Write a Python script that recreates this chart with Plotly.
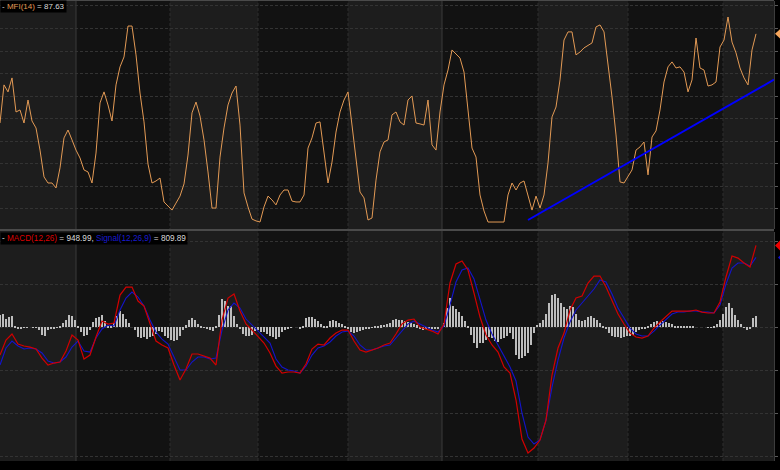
import plotly.graph_objects as go

# ---------------- data ----------------
STEP_MFI = 4     # bar spacing of the MFI samples
STEP_MACD = 6    # bar spacing of the MACD / signal samples
STEP_HIST = 3    # bar spacing of the histogram samples

mfi = [48.1, 65.0, 61.9, 68.1, 53.0, 53.9, 48.1, 58.3, 49.0, 45.9,
       36.1, 24.2, 21.5, 21.5, 19.3, 28.2, 41.5, 45.0, 40.6, 36.1,
       32.6, 27.3, 26.4, 21.5, 34.8, 57.0, 61.9, 56.1, 49.0, 65.0,
       73.0, 77.4, 91.1, 91.1, 78.3, 61.4, 48.6, 29.9, 21.5, 22.4,
       23.7, 13.1, 11.3, 9.5, 12.6, 15.7, 21.1, 33.9, 52.6, 57.4,
       51.2, 40.6, 26.4, 10.4, 10.4, 33.0, 45.9, 56.1, 61.4, 64.5,
       47.2, 17.1, 10.9, 5.5, 4.7, 4.2, 10.9, 15.7, 14.0, 11.8,
       16.2, 18.4, 18.4, 13.5, 13.1, 13.1, 16.2, 37.0, 41.5, 48.1,
       48.6, 36.1, 21.5, 30.8, 44.1, 53.0, 58.3, 61.9, 46.8, 31.7,
       17.5, 14.9, 5.1, 6.0, 22.8, 35.3, 39.7, 40.6, 51.7, 53.0,
       48.6, 47.2, 58.3, 60.1, 48.1, 47.7, 47.2, 58.3, 38.4, 36.1,
       53.0, 65.0, 71.6, 80.5, 78.7, 76.9, 70.7, 53.9, 37.0, 33.0,
       16.2, 9.1, 4.2, 4.2, 4.2, 4.2, 4.2, 16.2, 21.5, 18.4,
       21.5, 22.4, 16.2, 9.5, 15.7, 10.4, 16.2, 30.4, 50.8, 55.2,
       67.2, 84.9, 88.5, 88.5, 78.3, 79.6, 81.4, 82.7, 83.6, 90.7,
       91.6, 88.5, 74.7, 59.7, 42.8, 22.0, 21.5, 24.6, 27.3, 36.1,
       37.5, 39.7, 25.1, 41.9, 44.6, 53.9, 66.3, 73.0, 75.2, 72.5,
       73.0, 70.7, 61.9, 67.2, 85.8, 72.5, 71.6, 64.5, 65.0, 66.3,
       81.8, 84.9, 95.1, 84.0, 79.2, 72.5, 68.1, 65.0, 80.5, 87.63]

macd = [-326, -151, -81, -198, -221, -233, -256, -361, -442, -419,
        -407, -279, -93, -151, -372, -326, -116, 70, 35, 47,
        372, 465, 465, 302, 244, 35, -163, -209, -244, -442,
        -616, -488, -314, -314, -337, -361, -442, 81, 337, 384,
        186, 35, -35, -105,
        -186, -302, -454, -535, -523, -523, -535, -430, -256, -198,
        -209, -128, -70, -35, -35, -163, -267, -291, -267, -244,
        -209, -186, -81, 35, 81, 93, 0, -23, -47, -81,
        35, 512, 733, 768, 663, 395, 116, -93, -209, -291,
        -465, -535, -849,
        -1303, -1465, -1407, -1314, -1082, -558, -244, -70, 198, 337,
        361, 512, 593, 593, 465, 302, 151, 35, -70, -116,
        -128, -105, -12, 58, 128, 186, 186, 186, 186, 198,
        174, 163, 163, 291, 582, 826, 802, 744, 698, 948.99]

signal = [-442, -244, -163, -221, -256, -244, -256, -302, -395, -419,
          -407, -349, -233, -163, -279, -291, -128, -23, 23, 12,
          198, 337, 407, 349, 244, 81, -58, -140, -198, -349,
          -500, -500, -407, -349, -349, -372, -361, -35, 198, 279,
          221, 93, 23, -47,
          -105, -186, -372, -465, -500, -512, -535, -454, -326, -244,
          -221, -174, -105, -58, -47, -105, -209, -267, -267, -244,
          -221, -209, -128, -35, 35, 70, 35, 0, -35, -58,
          12, 256, 523, 663, 686, 558, 314, 81, -81, -209,
          -337, -465, -628,
          -1000, -1279, -1361, -1314, -1082, -698, -384, -128, 58, 198,
          279, 349, 442, 547, 523, 384, 221, 105, -12, -81,
          -105, -105, -47, 23, 93, 151, 174, 174, 186, 186,
          174, 174, 163, 256, 500, 686, 744, 744, 709, 809.89]

hist = [143, 155, 93, 120, 124, 8, -23, -19, -8, -4,
        0, -4, -4, -31, -89, -101, -39, -12, -16, -4,
        8, 43, 85, 143, 132, 85, 8, -54, -109, -97,
        -31, 58, 101, 120, 140, 66, 12, 12, 43, 124,
        182, 147, 93, 43, 0, -31, -112, -128, -116, -140,
        -116, -101, -78, -50, -62, -101, -124, -151, -167, -147,
        -101, -39, 19, 78, 105, 78, 31, 8, -4, -12,
        -31, -50, 16, 143, 326, 299, 248, 248, 132, 39,
        -12, -81, -105, -105, -89, -50, -31,
        -54, -62, -78, -101, -116, -140, -116, -62, -31, -19,
        -8, 0, 0, -12, 8, 105, 120, 112, 93, 66,
        31, 8, 8, 66, 78, 70, 50, 35, 16, -23,
        -54, -70, -62, -50, -31, -19, -12, -4, 4, 12,
        19, 27, 31, 47, 81, 93, 81, 85, 74, 58,
        43, 35, 23, -12, -35, -23, -12, -19, -27, -23,
        0, 47, 221, 337, 248, 209, 174, 124, 66, 4,
        -93, -186, -240, -186, -186, -155, -120, -132, -167, -171,
        -140, -124, -109, -70, -140, -322, -372,
        -361, -333, -302, -205, -70, 27, 47, 81, 147, 279,
        376, 388, 337, 279, 233, 209, 240, 233, 155, 78,
        66, 85, 116, 128, 109, 81, 47, 4, -23, -74,
        -101, -112, -120, -124, -112, -101, -109, -89, -58, -35,
        -27, -12, 8, 35, 54, 66, 54, 66, 62, 50,
        35, 16, 8, 8, 8, 4, 8, 8, 0, 0,
        0, 0, -4, -8, 4, 31, 85, 155, 233, 279,
        221, 143, 85, 35, -4, -31, -12, 105, 132]

trend_bars = [528, 774]
trend_mfi = [5.1, 67.3]

mfi_ticks = [10, 20, 30, 40, 50, 60, 70, 80, 90, 100]
macd_ticks = [-1500, -1000, -500, 0, 500, 1000]

band_edges = [0, 76, 170, 258, 348, 442, 538, 628, 723, 774]
solid_lines = [76, 442]
dashed_lines = [170, 258, 348, 538, 628, 723]

mfi_name = "MFI(14)"
macd_name = "MACD(12,26)"
signal_name = "Signal(12,26,9)"

# ---------------- styling ----------------
ORANGE = "#e39a55"
RED = "#d20000"
BLUE = "#1414cc"
TXT = "#d8d8d8"
LIGHT_BAND = "#1d1d1d"
DARK_BAND = "#121212"
GRID = "#333333"
FONT = "Liberation Sans, Arial, sans-serif"

W, H = 780, 470
MB = 9
PH = H - MB  # plot height in px


def py(p):
    return 1 - p / PH


x_mfi = [i * STEP_MFI for i in range(len(mfi))]
x_macd = [i * STEP_MACD for i in range(len(macd))]
x_hist = [i * STEP_HIST for i in range(len(hist))]

fig = go.Figure()
fig.add_trace(go.Bar(x=x_hist, y=hist, width=2.0, xaxis="x", yaxis="y2",
                     marker=dict(color="#bdbdbd", line=dict(width=0))))
fig.add_trace(go.Scatter(x=x_macd, y=signal, mode="lines", xaxis="x", yaxis="y2",
                         line=dict(color=BLUE, width=1.1)))
fig.add_trace(go.Scatter(x=x_macd, y=macd, mode="lines", xaxis="x", yaxis="y2",
                         line=dict(color=RED, width=1.2)))
fig.add_trace(go.Scatter(x=x_mfi, y=mfi, mode="lines", xaxis="x", yaxis="y",
                         line=dict(color=ORANGE, width=1)))
fig.add_trace(go.Scatter(x=trend_bars, y=trend_mfi, mode="lines", xaxis="x", yaxis="y",
                         line=dict(color="#0000ff", width=2)))

shapes = []
for k in range(len(band_edges) - 1):
    shapes.append(dict(type="rect", xref="x", yref="paper",
                       x0=band_edges[k], x1=band_edges[k + 1], y0=0, y1=1,
                       fillcolor=LIGHT_BAND if k % 2 == 0 else DARK_BAND,
                       line=dict(width=0), layer="below"))
for v in dashed_lines:
    shapes.append(dict(type="line", xref="x", yref="paper", x0=v, x1=v, y0=0, y1=1,
                       line=dict(color="#2f2f2f", width=1, dash="3px,2px"), layer="below"))
for v in solid_lines:
    shapes.append(dict(type="line", xref="x", yref="paper", x0=v, x1=v, y0=0, y1=1,
                       line=dict(color="#3a3a3a", width=1), layer="below"))
# panel separators
shapes.append(dict(type="line", xref="paper", yref="paper", x0=0, x1=1, y0=py(230), y1=py(230),
                   line=dict(color="#4a4a4a", width=2)))
shapes.append(dict(type="line", xref="paper", yref="paper", x0=0, x1=1, y0=1, y1=1,
                   line=dict(color="#4a4a4a", width=2)))


def tag(axis, value, half, tip_px, color):
    xt = tip_px / 774
    x1 = (tip_px + 5) / 774
    path = (f"M {xt},{value} L {x1},{value + half} L 1.05,{value + half} "
            f"L 1.05,{value - half} L {x1},{value - half} Z")
    return dict(type="path", xref="paper", yref=axis, path=path,
                fillcolor=color, line=dict(width=0), layer="above")


shapes.append(tag("y", mfi[-1], 2.1, 775, "#f5a55c"))
shapes.append(tag("y2", macd[-1], 58, 775, "#ee0000"))
shapes.append(tag("y2", signal[-1], 58, 778, "#1010d0"))

ann = [
    dict(xref="paper", yref="paper", x=0, y=1, xanchor="left", yanchor="top",
         showarrow=False, bgcolor="#000000", borderpad=1,
         font=dict(family=FONT, size=8, color=TXT),
         text=(f"<span style='color:{TXT}'>- </span>"
               f"<span style='color:{ORANGE}'>{mfi_name}</span>"
               f"<span style='color:{TXT}'> = {mfi[-1]:.2f}</span>")),
    dict(xref="paper", yref="paper", x=0, y=py(232), xanchor="left", yanchor="top",
         showarrow=False, bgcolor="#000000", borderpad=1,
         font=dict(family=FONT, size=8.2, color=TXT),
         text=(f"<span style='color:{TXT}'>- </span>"
               f"<span style='color:#dd0000'>{macd_name}</span>"
               f"<span style='color:{TXT}'> = {macd[-1]:.2f}, </span>"
               f"<span style='color:#1a1ad0'>{signal_name}</span>"
               f"<span style='color:{TXT}'> = {signal[-1]:.2f}</span>")),
]

yaxis_common = dict(side="right", showticklabels=False, ticks="outside", ticklen=3,
                    tickcolor="#5a5a5a", showgrid=True, gridcolor=GRID, gridwidth=1,
                    griddash="3px,2px", zeroline=False, showline=True,
                    linecolor="#3c3c3c", linewidth=1, anchor="x", fixedrange=True)

fig.update_layout(
    width=W, height=H,
    margin=dict(l=0, r=6, t=0, b=MB, pad=0),
    paper_bgcolor="#000000", plot_bgcolor=LIGHT_BAND,
    showlegend=False, bargap=0, hovermode=False,
    xaxis=dict(domain=[0, 1], range=[0, 774], showgrid=False, zeroline=False,
               showticklabels=False, ticks="", showline=False, anchor="y2", fixedrange=True),
    yaxis=dict(domain=[py(229), py(1)], range=[1.11, 102.2], tickvals=mfi_ticks, **yaxis_common),
    yaxis2=dict(domain=[0, py(232)], range=[-1558, 1105], tickvals=macd_ticks, **yaxis_common),
    shapes=shapes, annotations=ann,
)

fig.write_html("out.html", config={"displayModeBar": False},
               post_script="document.body.style.margin='0';document.body.style.background='#000';")
